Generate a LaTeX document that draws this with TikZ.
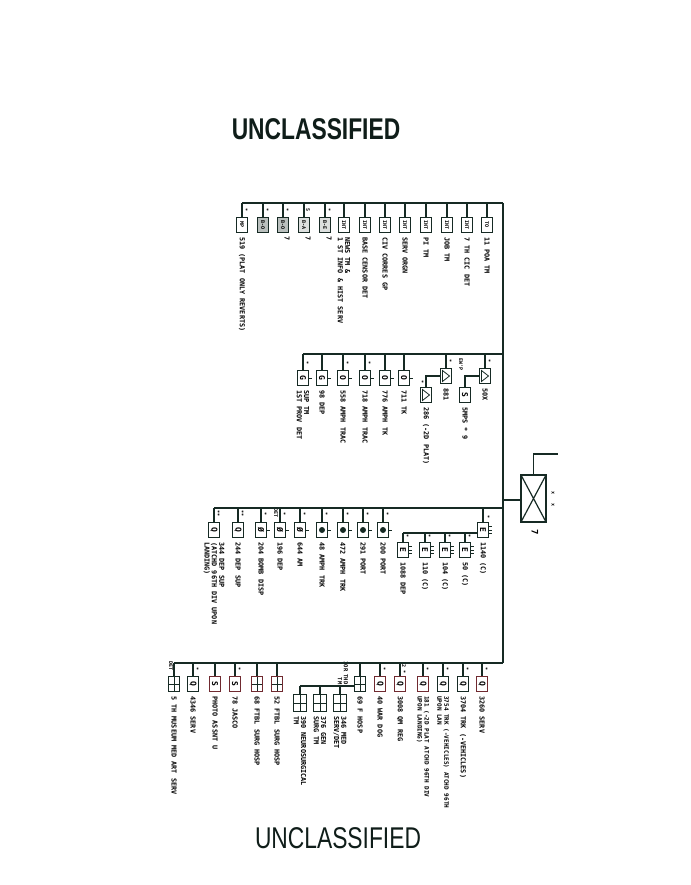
\documentclass[tikz,border=0pt]{standalone}
\usepackage{fontspec}
\setmainfont{Liberation Sans}
\setmonofont{DejaVu Sans Mono}
\usetikzlibrary{positioning}
\definecolor{ink}{RGB}{22,42,36}
\definecolor{inkred}{RGB}{112,42,48}
\newcommand{\rt}[1]{\rotatebox{-90}{#1}}
\tikzstyle{unit}=[
	draw=ink,
	shape=rectangle,
	line width=1.1pt,
	minimum width=11pt,
	minimum height=15pt,
	inner sep=0pt,
	font=\ttfamily\bfseries\fontsize{8}{8}\selectfont
]
\tikzstyle{smallunit}=[unit, font=\ttfamily\bfseries\fontsize{5}{5}\selectfont]
\tikzstyle{otick}=[append after command={(\tikzlastnode.east) edge[draw=ink, line width=0.9pt] ++(3pt,0pt)}]
\tikzstyle{etick}=[append after command={([yshift=3.5pt]\tikzlastnode.east) edge[draw=ink, line width=0.8pt] ++(3pt,0pt) (\tikzlastnode.east) edge[draw=ink, line width=0.8pt] ++(3pt,0pt) ([yshift=-3.5pt]\tikzlastnode.east) edge[draw=ink, line width=0.8pt] ++(3pt,0pt)}]
\tikzstyle{gridbox}=[unit, path picture={\draw[ink, line width=0.9pt] (path picture bounding box.north) -- (path picture bounding box.south) (path picture bounding box.west) -- (path picture bounding box.east);}]
\tikzstyle{tribox}=[unit, path picture={\draw[ink, line width=0.8pt] ([shift={(2pt,-2pt)}]path picture bounding box.north west) -- ([shift={(2pt,2pt)}]path picture bounding box.south west) -- ([xshift=-2pt]path picture bounding box.east) -- cycle;}]
\tikzstyle{dotbox}=[unit, path picture={\fill[ink] (path picture bounding box.center) circle (3pt);}]
\tikzstyle{xbox}=[draw=ink, line width=1.6pt, minimum width=25pt, minimum height=47pt, inner sep=0pt, path picture={\draw[ink, line width=1.2pt] (path picture bounding box.north west) -- (path picture bounding box.south east) (path picture bounding box.south west) -- (path picture bounding box.north east);}]
\tikzstyle{lbl}=[rotate=-90, anchor=west, inner sep=0pt, align=left, font=\ttfamily\bfseries\fontsize{6.8}{7.4}\selectfont]
\tikzstyle{sign}=[rotate=-90, inner sep=0pt, font=\ttfamily\bfseries\fontsize{5}{5}\selectfont]
\tikzstyle{bus} = [draw=ink, line width=1.3pt]
\tikzstyle{trunk} = [draw=ink, line width=2.4pt]

\begin{document}
\begin{tikzpicture}[x=1pt,y=-1pt]
	\useasboundingbox (0,0) rectangle (690,885);

	\node[font=\bfseries\fontsize{30}{30}\selectfont, xscale=0.76, text=ink!70!black] (title) at (316,129) {UNCLASSIFIED};
	\node[font=\fontsize{30}{30}\selectfont, xscale=0.76, text=ink!70!black] (foot) at (338,838) {UNCLASSIFIED};

	\coordinate (top) at (503,203);
	\coordinate (b2) at (503,354);
	\coordinate (jx) at (503,500);
	\coordinate (b3) at (503,508);
	\coordinate (bot) at (503,663);
	\coordinate (xo) at (558,454);
	\coordinate (s3) at (403,533);
	\coordinate (s4) at (300,686);

	\node[xbox] (X) at (533.5,498.5) {};
	\node[lbl, anchor=center, font=\ttfamily\bfseries\fontsize{9}{9}\selectfont] (X7) at (535,532) {7};
	\node[sign] (Xm1) at (553,493) {x};
	\node[sign] (Xm2) at (553,505) {x};

	\node[smallunit] (A1) at (242,225) {\rt{MP}};
	\node[smallunit, fill=ink!30] (A2) at (263,225) {\rt{B-O}};
	\node[smallunit, fill=ink!30] (A3) at (283,225) {\rt{B-O}};
	\node[smallunit, fill=ink!15] (A4) at (304,225) {\rt{B-A}};
	\node[smallunit, fill=ink!15] (A5) at (325,225) {\rt{B-E}};
	\node[smallunit] (A6) at (344,225) {\rt{INT}};
	\node[smallunit] (A7) at (365,225) {\rt{INT}};
	\node[smallunit] (A8) at (385,225) {\rt{INT}};
	\node[smallunit] (A9) at (405,225) {\rt{INT}};
	\node[smallunit] (A10) at (426,225) {\rt{INT}};
	\node[smallunit] (A11) at (447,225) {\rt{INT}};
	\node[smallunit] (A12) at (467,225) {\rt{INT}};
	\node[smallunit] (A13) at (487,225) {\rt{TO}};

	\node[lbl] (A1t) at ([yshift=-4pt]A1.south) {519 (PLAT ONLY REVERTS)};
	\node[lbl] (A3t) at ([shift={(4pt,-3pt)}]A3.south) {7};
	\node[lbl] (A4t) at ([shift={(4pt,-3pt)}]A4.south) {7};
	\node[lbl] (A5t) at ([shift={(4pt,-3pt)}]A5.south) {7};
	\node[lbl] (A6t) at ([yshift=-4pt]A6.south) {NEWS TM \&\\1 ST INFO \& HIST SERV};
	\node[lbl] (A7t) at ([yshift=-4pt]A7.south) {BASE CENSOR DET};
	\node[lbl] (A8t) at ([yshift=-4pt]A8.south) {CIV CORRES GP};
	\node[lbl] (A9t) at ([yshift=-4pt]A9.south) {SERV ORGN};
	\node[lbl] (A10t) at ([yshift=-4pt]A10.south) {PI TM};
	\node[lbl] (A11t) at ([yshift=-4pt]A11.south) {JOB TM};
	\node[lbl] (A12t) at ([yshift=-4pt]A12.south) {7 TH CIC DET};
	\node[lbl] (A13t) at ([yshift=-4pt]A13.south) {11 POA TM};

	\node[sign] (A1m) at ([shift={(4pt,7pt)}]A1.north) {*};
	\node[sign] (A2m) at ([shift={(4pt,7pt)}]A2.north) {*};
	\node[sign] (A3m) at ([shift={(4pt,7pt)}]A3.north) {*};
	\node[sign] (A4m) at ([shift={(4pt,7pt)}]A4.north) {5};
	\node[sign] (A5m) at ([shift={(4pt,7pt)}]A5.north) {*};

	\node[unit, otick] (B1) at (303,378) {\rt{G}};
	\node[unit, otick] (B2) at (322,378) {\rt{G}};
	\node[unit, otick] (B3) at (343,378) {\rt{O}};
	\node[unit, otick] (B4) at (365,378) {\rt{O}};
	\node[unit, otick] (B5) at (385,378) {\rt{O}};
	\node[unit, otick] (B6) at (404,378) {\rt{O}};
	\node[tribox] (B7) at (426,395) {};
	\node[tribox] (B8) at (446,376) {};
	\node[unit] (B9) at (465,395) {\rt{S}};
	\node[tribox] (B10) at (485,376) {};

	\node[lbl] (B1t) at ([yshift=-4pt]B1.south) {SUP TM\\1ST PROV DET};
	\node[lbl] (B2t) at ([yshift=-4pt]B2.south) {98 DEP};
	\node[lbl] (B3t) at ([yshift=-4pt]B3.south) {558 AMPH TRAC};
	\node[lbl] (B4t) at ([yshift=-4pt]B4.south) {718 AMPH TRAC};
	\node[lbl] (B5t) at ([yshift=-4pt]B5.south) {776 AMPH TK};
	\node[lbl] (B6t) at ([yshift=-4pt]B6.south) {711 TK};
	\node[lbl] (B7t) at ([yshift=-4pt]B7.south) {286 (-2D PLAT)};
	\node[lbl] (B8t) at ([yshift=-4pt]B8.south) {881};
	\node[lbl] (B9t) at ([yshift=-4pt]B9.south) {5MPS * 9};
	\node[lbl] (B10t) at ([yshift=-4pt]B10.south) {50X};

	\node[sign] (B1m) at ([shift={(4pt,7pt)}]B1.north) {*};
	\node[sign] (B3m) at ([shift={(4pt,7pt)}]B3.north) {*};
	\node[sign] (B4m) at ([shift={(4pt,7pt)}]B4.north) {*};
	\node[sign] (B7m) at ([shift={(-4pt,5pt)}]B7.north) {*};
	\node[sign] (B8m) at ([shift={(4pt,7pt)}]B8.north) {*};
	\node[sign] (B9m) at ([shift={(-4pt,22pt)}]B9.north) {EW'P};
	\node[sign] (B10m) at ([shift={(4pt,7pt)}]B10.north) {*};

	\node[unit] (C1) at (214,530) {\rt{Q}};
	\node[unit] (C2) at (238,530) {\rt{Q}};
	\node[unit, otick] (C3) at (261,530) {\rt{Ø}};
	\node[unit, otick] (C4) at (280,530) {\rt{Ø}};
	\node[unit, otick] (C5) at (300,530) {\rt{Ø}};
	\node[dotbox, otick] (C6) at (322,530) {};
	\node[dotbox, otick] (C7) at (343,530) {};
	\node[dotbox, otick] (C8) at (363,530) {};
	\node[dotbox, otick] (C9) at (383,530) {};
	\node[unit, etick] (C10) at (483,530) {\rt{E}};
	\node[unit, etick] (D1) at (403,550) {\rt{E}};
	\node[unit, etick] (D2) at (425,550) {\rt{E}};
	\node[unit, etick] (D3) at (445,550) {\rt{E}};
	\node[unit, etick] (D4) at (465,550) {\rt{E}};

	\node[lbl] (C1t) at ([yshift=-4pt]C1.south) {344 DEP SUP\\(ATCHD 96TH DIV UPON\\LANDING)};
	\node[lbl] (C2t) at ([yshift=-4pt]C2.south) {244 DEP SUP};
	\node[lbl] (C3t) at ([yshift=-4pt]C3.south) {204 BOMB DISP};
	\node[lbl] (C4t) at ([yshift=-4pt]C4.south) {196 DEP};
	\node[lbl] (C5t) at ([yshift=-4pt]C5.south) {644 AM};
	\node[lbl] (C6t) at ([yshift=-4pt]C6.south) {48 AMPH TRK};
	\node[lbl] (C7t) at ([yshift=-4pt]C7.south) {472 AMPH TRK};
	\node[lbl] (C8t) at ([yshift=-4pt]C8.south) {291 PORT};
	\node[lbl] (C9t) at ([yshift=-4pt]C9.south) {200 PORT};
	\node[lbl] (C10t) at ([yshift=-4pt]C10.south) {1140 (C)};
	\node[lbl] (D1t) at ([yshift=-4pt]D1.south) {1088 DEP};
	\node[lbl] (D2t) at ([yshift=-4pt]D2.south) {110 (C)};
	\node[lbl] (D3t) at ([yshift=-4pt]D3.south) {104 (C)};
	\node[lbl] (D4t) at ([yshift=-4pt]D4.south) {50 (C)};

	\node[sign] (C1m) at ([shift={(4pt,8pt)}]C1.north) {**};
	\node[sign] (C2m) at ([shift={(4pt,8pt)}]C2.north) {**};
	\node[sign] (C3m) at ([shift={(4pt,8pt)}]C3.north) {*};
	\node[sign] (C4m) at ([shift={(4pt,8pt)}]C4.north) {*};
	\node[sign] (C4d) at ([shift={(-4pt,9pt)}]C4.north) {DET};
	\node[sign] (C5m) at ([shift={(4pt,8pt)}]C5.north) {*};
	\node[sign] (C6m) at ([shift={(4pt,8pt)}]C6.north) {*};
	\node[sign] (C7m) at ([shift={(4pt,8pt)}]C7.north) {*};
	\node[sign] (C8m) at ([shift={(4pt,8pt)}]C8.north) {*};
	\node[sign] (C9m) at ([shift={(4pt,8pt)}]C9.north) {*};
	\node[sign] (C10m) at ([shift={(5pt,5pt)}]C10.north) {*};
	\node[sign] (D1m) at ([shift={(4pt,6pt)}]D1.north) {*};
	\node[sign] (D2m) at ([shift={(4pt,6pt)}]D2.north) {*};
	\node[sign] (D3m) at ([shift={(4pt,6pt)}]D3.north) {*};
	\node[sign] (D4m) at ([shift={(4pt,6pt)}]D4.north) {*};

	\node[gridbox] (E1) at (174,684) {};
	\node[unit] (E2) at (193,684) {\rt{Q}};
	\node[unit, draw=inkred] (E3) at (215,684) {\rt{S}};
	\node[unit, draw=inkred] (E4) at (235,684) {\rt{S}};
	\node[gridbox, draw=inkred] (E5) at (257,684) {};
	\node[gridbox, draw=inkred] (E6) at (277,684) {};
	\node[gridbox] (E7) at (360,684) {};
	\node[unit, draw=inkred] (E8) at (380,684) {\rt{Q}};
	\node[unit, draw=inkred] (E9) at (400,684) {\rt{Q}};
	\node[unit, draw=inkred] (E10) at (423,684) {\rt{Q}};
	\node[unit] (E11) at (443,684) {\rt{Q}};
	\node[unit] (E12) at (463,684) {\rt{Q}};
	\node[unit, draw=inkred] (E13) at (482,684) {\rt{Q}};
	\node[gridbox, minimum width=13pt, minimum height=17pt] (F1) at (300,703) {};
	\node[gridbox, minimum width=13pt, minimum height=17pt] (F2) at (320,703) {};
	\node[gridbox, minimum width=13pt, minimum height=17pt] (F3) at (340,703) {};

	\node[lbl] (E1t) at ([yshift=-4pt]E1.south) {5 TH MUSEUM MED ART SERV};
	\node[lbl] (E2t) at ([yshift=-4pt]E2.south) {4346 SERV};
	\node[lbl] (E3t) at ([yshift=-4pt]E3.south) {PHOTO ASSNT U};
	\node[lbl] (E4t) at ([yshift=-4pt]E4.south) {78 JASCO};
	\node[lbl] (E5t) at ([yshift=-4pt]E5.south) {68 FTBL SURG HOSP};
	\node[lbl] (E6t) at ([yshift=-4pt]E6.south) {52 FTBL SURG HOSP};
	\node[lbl] (E7t) at ([yshift=-4pt]E7.south) {69 F HOSP};
	\node[lbl] (E8t) at ([yshift=-4pt]E8.south) {40 WAR DOG};
	\node[lbl] (E9t) at ([yshift=-4pt]E9.south) {3008 QM REG};
	\node[lbl, font=\ttfamily\bfseries\fontsize{6}{7}\selectfont] (E10t) at ([yshift=-4pt]E10.south) {181 (-2D PLAT ATCHD 96TH DIV\\UPON LANDING)};
	\node[lbl, font=\ttfamily\bfseries\fontsize{6}{7}\selectfont] (E11t) at ([yshift=-4pt]E11.south) {3754 TRK (-VEHICLES) ATCHD 96TH\\UPON LAN};
	\node[lbl] (E12t) at ([yshift=-4pt]E12.south) {3704 TRK (-VEHICLES)};
	\node[lbl] (E13t) at ([yshift=-4pt]E13.south) {3260 SERV};
	\node[lbl] (F1t) at ([yshift=-4pt]F1.south) {390 NEUROSURGICAL\\TM};
	\node[lbl] (F2t) at ([yshift=-4pt]F2.south) {376 GEN\\SURG TM};
	\node[lbl] (F3t) at ([yshift=-4pt]F3.south) {346 MED\\SERV/DET};
	\node[sign, anchor=center, align=right, font=\ttfamily\bfseries\fontsize{5.5}{6}\selectfont] (F0t) at (343,673) {1OR THD\\TM};

	\node[sign] (E1d) at ([shift={(-3pt,10pt)}]E1.north) {DET};
	\node[sign] (E2m) at ([shift={(4pt,7pt)}]E2.north) {*};
	\node[sign] (E4m) at ([shift={(4pt,7pt)}]E4.north) {*};
	\node[sign] (E8m) at ([shift={(4pt,7pt)}]E8.north) {*};
	\node[sign] (E9m) at ([shift={(4pt,7pt)}]E9.north) {2 *};
	\node[sign] (E10m) at ([shift={(4pt,7pt)}]E10.north) {*};
	\node[sign] (E11m) at ([shift={(4pt,7pt)}]E11.north) {*};
	\node[sign] (E12m) at ([shift={(4pt,7pt)}]E12.north) {*};
	\node[sign] (E13m) at ([shift={(4pt,7pt)}]E13.north) {*};

	\path[trunk] (top) -- (bot);
	\path[bus] (jx) -- (X.west |- jx);
	\path[bus] (X.north) |- (xo);

	\path[bus] (A1 |- top) -- (top);
	\path[bus]
	(A1) edge (A1 |- top)
	(A2) edge (A2 |- top)
	(A3) edge (A3 |- top)
	(A4) edge (A4 |- top)
	(A5) edge (A5 |- top)
	(A6) edge (A6 |- top)
	(A7) edge (A7 |- top)
	(A8) edge (A8 |- top)
	(A9) edge (A9 |- top)
	(A10) edge (A10 |- top)
	(A11) edge (A11 |- top)
	(A12) edge (A12 |- top)
	(A13) edge (A13 |- top);

	\path[bus] (B1 |- b2) -- (b2);
	\path[bus]
	(B1) edge (B1 |- b2)
	(B2) edge (B2 |- b2)
	(B3) edge (B3 |- b2)
	(B4) edge (B4 |- b2)
	(B5) edge (B5 |- b2)
	(B6) edge (B6 |- b2)
	(B8) edge (B8 |- b2)
	(B10) edge (B10 |- b2);
	\path[bus] (B7.north) |- (B8.west);
	\path[bus] (B9.north) |- (B10.west);

	\path[bus] (C1 |- b3) -- (b3);
	\path[bus]
	(C1) edge (C1 |- b3)
	(C2) edge (C2 |- b3)
	(C3) edge (C3 |- b3)
	(C4) edge (C4 |- b3)
	(C5) edge (C5 |- b3)
	(C6) edge (C6 |- b3)
	(C7) edge (C7 |- b3)
	(C8) edge (C8 |- b3)
	(C9) edge (C9 |- b3)
	(C10) edge (C10 |- b3);
	\path[bus] (s3) -- (C10.west |- s3);
	\path[bus]
	(D1) edge (D1 |- s3)
	(D2) edge (D2 |- s3)
	(D3) edge (D3 |- s3)
	(D4) edge (D4 |- s3);

	\path[bus] (E1 |- bot) -- (bot);
	\path[bus]
	(E1) edge (E1 |- bot)
	(E2) edge (E2 |- bot)
	(E3) edge (E3 |- bot)
	(E4) edge (E4 |- bot)
	(E5) edge (E5 |- bot)
	(E6) edge (E6 |- bot)
	(E7) edge (E7 |- bot)
	(E8) edge (E8 |- bot)
	(E9) edge (E9 |- bot)
	(E10) edge (E10 |- bot)
	(E11) edge (E11 |- bot)
	(E12) edge (E12 |- bot)
	(E13) edge (E13 |- bot);
	\path[bus] (s4) -- (E7.west |- s4);
	\path[bus]
	(F1) edge (F1 |- s4)
	(F2) edge (F2 |- s4)
	(F3) edge (F3 |- s4);

\end{tikzpicture}
\end{document}
